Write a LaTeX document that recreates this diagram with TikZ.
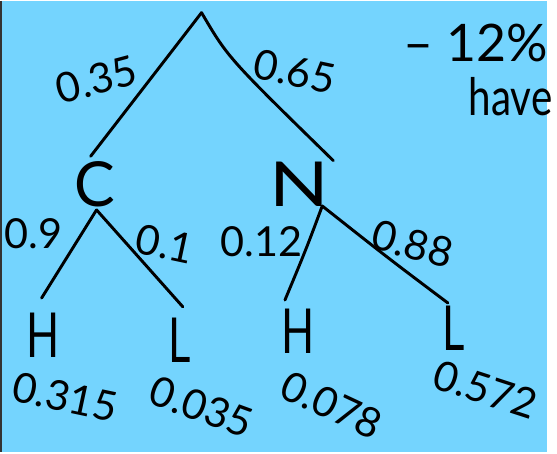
\documentclass[tikz,border=0pt]{standalone}
\usepackage{fontspec}
\setmainfont{Lato}
\usetikzlibrary{calc}

\definecolor{boardblue}{RGB}{116,212,254}

\begin{document}
\begin{tikzpicture}[x=0.02cm, y=-0.02cm, line width=1.7pt, line cap=round,
    letter/.style={font=\fontsize{36}{38}\selectfont, inner sep=0pt, xscale=0.7},
    prob/.style={font=\fontsize{24}{26}\selectfont, inner sep=1pt}]

    % --- board ---
    \fill[boardblue] (0,0) rectangle (557,460);
    \draw[black!80, line width=1pt, line cap=butt] (0.5,0) -- (0.5,460);

    % --- first level ---
    \coordinate (root) at (205,12);
    \node[letter, xscale=1.4] (C) at (96,187) {C};
    \node[letter, xscale=1.8] (N) at (305,187) {N};

    \draw (root) .. controls (185,38) .. ($(C.north)+(-4,-4)$);
    \draw (root) .. controls (232,58) .. ($(N.north east)+(2,0)$);

    \node[prob, rotate=15]  (pC) at (98,80) {0.35};
    \node[prob, rotate=-12] (pN) at (300,72) {0.65};

    % --- second level ---
    \node[letter] (CH) at (44,341) {H};
    \node[letter] (CL) at (183,346) {L};
    \node[letter] (NH) at (303,337) {H};
    \node[letter] (NL) at (462,334) {L};

    \coordinate (Cb) at (98,213);
    \coordinate (Nb) at (328,209);

    \draw (Cb) -- ($(CH.north)+(-2,-14)$);
    \draw (Cb) -- ($(CL.north)+(3,-10)$);
    \draw (Nb) .. controls (312,252) .. ($(NH.north)+(-13,-8)$);
    \draw (Nb) .. controls (395,262) .. ($(NL.north)+(-6,-2)$);

    \node[prob] (pCH) at (34,237) {0.9};
    \node[prob, rotate=-12] (pCL) at (168,248) {0.1};
    \node[prob] (pNH) at (266,245) {0.12};
    \node[prob, rotate=-15] (pNL) at (420,248) {0.88};

    % --- joint probabilities ---
    \node[prob, rotate=-12] (jCH) at (66,404) {0.315};
    \node[prob, rotate=-20] (jCL) at (205,414) {0.035};
    \node[prob, rotate=-25] (jNH) at (338,412) {0.078};
    \node[prob, rotate=-18] (jNL) at (494,396) {0.572};

    % --- note ---
    \node[font=\fontsize{30}{32}\selectfont, anchor=west] (note1) at (403,43) {-- 12\%};
    \node[font=\fontsize{30}{32}\selectfont, xscale=0.78] (note2) at (520,98) {have};

\end{tikzpicture}
\end{document}
